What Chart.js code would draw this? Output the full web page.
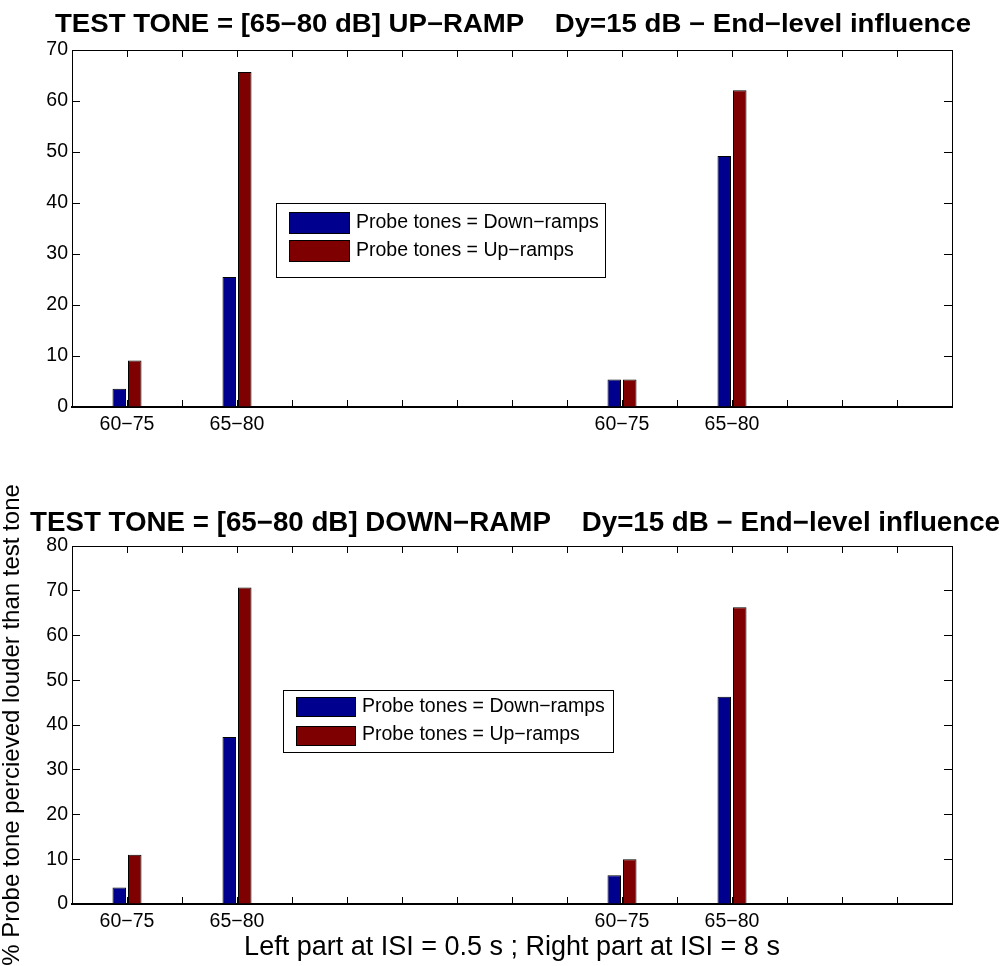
<!DOCTYPE html>
<html><head><meta charset="utf-8">
<script src="https://cdn.jsdelivr.net/npm/chart.js@4.4.1/dist/chart.umd.min.js"></script>
<style>
html,body{margin:0;padding:0;background:#fff;}
#wrap{position:relative;width:1005px;height:966px;overflow:hidden;background:#fff;}
#c1{position:absolute;left:0;top:0;}
#c2{position:absolute;left:0;top:470px;}
</style></head><body>
<div id="wrap"><canvas id="c1" width="1005" height="470"></canvas><canvas id="c2" width="1005" height="496"></canvas></div>
<script>
// ---- data ----
const categories = ['', '60−75', '', '65−80', '', '', '', '', '', '', '60−75', '', '65−80', '', '', '', ''];
const seriesNames = ['Probe tones = Down−ramps', 'Probe tones = Up−ramps'];
// top panel: test tone = up-ramp
const upTestDownProbe = [null, 3.6, null, 25.5, null, null, null, null, null, null, 5.4, null, 49.2, null, null, null, null];
const upTestUpProbe   = [null, 9.1, null, 65.7, null, null, null, null, null, null, 5.4, null, 62.1, null, null, null, null];
// bottom panel: test tone = down-ramp
const downTestDownProbe = [null, 3.7, null, 37.3, null, null, null, null, null, null, 6.4, null, 46.3, null, null, null, null];
const downTestUpProbe   = [null, 11.0, null, 70.7, null, null, null, null, null, null, 10.0, null, 66.3, null, null, null, null];
const yMaxTop = 70;
const yMaxBottom = 80;
const yStep = 10;
const titleTop = 'TEST TONE = [65−80 dB] UP−RAMP    Dy=15 dB − End−level influence';
const titleBottom = 'TEST TONE = [65−80 dB] DOWN−RAMP    Dy=15 dB − End−level influence';
const yLabel = '% Probe tone percieved louder than test tone';
const xLabel = 'Left part at ISI = 0.5 s ; Right part at ISI = 8 s';
const colors = ['#00008f', '#7f0000'];

const FONT = "'Liberation Sans', Arial, Helvetica, sans-serif";
Chart.defaults.font.family = FONT;
Chart.defaults.font.size = 19.5;
Chart.defaults.color = '#000';

const figText = {
  id: 'figText',
  afterDraw(chart, args, o) {
    const ctx = chart.ctx, ca = chart.chartArea;
    if (o.title) {
      ctx.save();
      ctx.fillStyle = '#000';
      ctx.font = o.title.font;
      const w = ctx.measureText(o.title.text).width;
      ctx.translate(o.title.cx, ca.top - o.title.gap);
      ctx.scale(o.title.width / w, 1);
      ctx.textAlign = 'center';
      ctx.textBaseline = 'alphabetic';
      ctx.fillText(o.title.text, 0, 0);
      ctx.restore();
    }
    if (o.ylabel) {
      ctx.save();
      ctx.fillStyle = '#000';
      ctx.font = o.ylabel.font;
      ctx.translate(o.ylabel.x, (ca.top + ca.bottom) / 2);
      ctx.rotate(-Math.PI / 2);
      ctx.textAlign = 'center';
      ctx.textBaseline = 'middle';
      ctx.fillText(o.ylabel.text, 0, 0);
      ctx.restore();
    }
  }
};

const boxLegend = {
  id: 'boxLegend',
  afterDatasetsDraw(chart, args, o) {
    const ctx = chart.ctx, ca = chart.chartArea;
    const x0 = Math.round(ca.left + o.x), y0 = Math.round(ca.top + o.y);
    ctx.save();
    ctx.fillStyle = '#fff';
    ctx.fillRect(x0, y0, o.w, o.h);
    ctx.strokeStyle = '#000';
    ctx.lineWidth = 1;
    ctx.strokeRect(x0 + 0.5, y0 + 0.5, o.w, o.h);
    ctx.font = o.font;
    ctx.textBaseline = 'middle';
    ctx.textAlign = 'left';
    chart.data.datasets.forEach((ds, i) => {
      const cy = y0 + o.rows[i];
      const top = Math.round(cy - o.sh / 2);
      ctx.fillStyle = ds.backgroundColor;
      ctx.fillRect(x0 + o.sx, top, o.sw, o.sh);
      ctx.strokeStyle = '#000';
      ctx.strokeRect(x0 + o.sx + 0.5, top + 0.5, o.sw, o.sh);
      ctx.fillStyle = '#000';
      ctx.fillText(ds.label, x0 + o.tx, cy);
    });
    ctx.restore();
  }
};

function makeDatasets(a, b) {
  return [a, b].map((d, i) => ({
    label: seriesNames[i],
    data: d,
    backgroundColor: colors[i],
    borderColor: '#000',
    borderWidth: 1,
    borderSkipped: 'start',
    categoryPercentage: 0.564,
    barPercentage: 0.87,
    xAxisID: 'x',
    yAxisID: 'y'
  }));
}

function makeScales(ymax, xHeight, xTitle) {
  const border = { display: true, color: '#000', width: 1 };
  return {
    x: {
      type: 'category', position: 'bottom', offset: false,
      grid: { offset: false, drawOnChartArea: false, drawTicks: true, tickLength: -7, color: '#000', lineWidth: 1 },
      border: { display: true, color: '#000', width: 2 },
      ticks: { autoSkip: false, maxRotation: 0, minRotation: 0, padding: 13, color: '#000' },
      title: xTitle ? { display: true, text: xTitle, color: '#000', font: { size: 27 }, padding: { top: 0, bottom: 2 } } : { display: false },
      afterFit(s) { s.height = xHeight; }
    },
    x2: {
      type: 'category', position: 'top', offset: false,
      grid: { offset: false, drawOnChartArea: false, drawTicks: true, tickLength: -7, color: '#000', lineWidth: 1 },
      border: border,
      ticks: { display: false, autoSkip: false },
      afterFit(s) { s.height = 0; }
    },
    y: {
      type: 'linear', position: 'left', min: 0, max: ymax,
      grid: { drawOnChartArea: false, drawTicks: true, tickLength: -8, color: '#000', lineWidth: 1 },
      border: border,
      ticks: { stepSize: yStep, padding: 12, color: '#000' },
      afterFit(s) { s.width = 72; }
    },
    y2: {
      type: 'linear', position: 'right', min: 0, max: ymax,
      grid: { drawOnChartArea: false, drawTicks: true, tickLength: -8, color: '#000', lineWidth: 1 },
      border: border,
      ticks: { display: false, stepSize: yStep },
      afterFit(s) { s.width = 0; }
    }
  };
}

new Chart(document.getElementById('c1'), {
  type: 'bar',
  data: { labels: categories, datasets: makeDatasets(upTestDownProbe, upTestUpProbe) },
  options: {
    responsive: false, animation: false, events: [],
    layout: { padding: { top: 50, left: 0, right: 53, bottom: 0 } },
    scales: makeScales(yMaxTop, 63, null),
    plugins: {
      legend: { display: false }, tooltip: { enabled: false }, title: { display: false },
      figText: { title: { text: titleTop, font: 'bold 25px ' + FONT, cx: 513, width: 916, gap: 18 } },
      boxLegend: { x: 204, y: 153, w: 329, h: 74, sx: 13, sw: 60, sh: 21, tx: 80, rows: [19.5, 47.5], font: '19.5px ' + FONT }
    }
  },
  plugins: [figText, boxLegend]
});

new Chart(document.getElementById('c2'), {
  type: 'bar',
  data: { labels: categories, datasets: makeDatasets(downTestDownProbe, downTestUpProbe) },
  options: {
    responsive: false, animation: false, events: [],
    layout: { padding: { top: 76, left: 0, right: 53, bottom: 0 } },
    scales: makeScales(yMaxBottom, 62, xLabel),
    plugins: {
      legend: { display: false }, tooltip: { enabled: false }, title: { display: false },
      figText: {
        title: { text: titleBottom, font: 'bold 27px ' + FONT, cx: 515, width: 970, gap: 15 },
        ylabel: { text: yLabel, font: '24px ' + FONT, x: 12 }
      },
      boxLegend: { x: 211, y: 144, w: 330, h: 62, sx: 13, sw: 59, sh: 19, tx: 79, rows: [16.5, 45], font: '19.5px ' + FONT }
    }
  },
  plugins: [figText, boxLegend]
});
</script>
</body></html>
